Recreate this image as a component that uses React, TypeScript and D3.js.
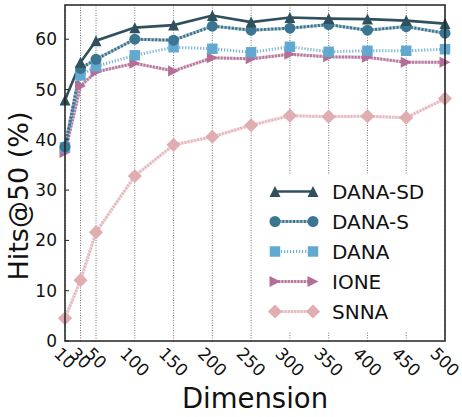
import React from "react";
import * as d3 from "d3";

const dims = [10, 30, 50, 100, 150, 200, 250, 300, 350, 400, 450, 500];
const danaSD = [47.9, 55.4, 59.7, 62.3, 62.8, 64.7, 63.4, 64.3, 64.1, 64.0, 63.7, 63.1];
const danaS = [38.6, 54.2, 56.0, 60.0, 59.8, 62.6, 61.8, 62.2, 62.9, 61.8, 62.5, 61.2];
const dana = [38.5, 52.8, 54.6, 56.8, 58.4, 58.1, 57.4, 58.5, 57.5, 57.7, 57.7, 58.0];
const ione = [37.5, 50.7, 53.5, 55.2, 53.7, 56.3, 56.1, 57.0, 56.5, 56.4, 55.4, 55.4];
const snna = [4.5, 12.1, 21.6, 32.8, 39.0, 40.6, 42.9, 44.8, 44.6, 44.7, 44.4, 48.2];
const yTicks = [0, 10, 20, 30, 40, 50, 60];
const seriesNames = ["DANA-SD", "DANA-S", "DANA", "IONE", "SNNA"];

type MarkerKind = "tri" | "circle" | "square" | "right" | "diamond";

const markerType = (kind: MarkerKind) => ({
  draw(ctx: any, size: number) {
    const r = Math.sqrt(size) / 2;
    if (kind === "tri") {
      ctx.moveTo(0, -r);
      ctx.lineTo(r, r);
      ctx.lineTo(-r, r);
      ctx.closePath();
    } else if (kind === "right") {
      ctx.moveTo(r, 0);
      ctx.lineTo(-r, r);
      ctx.lineTo(-r, -r);
      ctx.closePath();
    } else if (kind === "circle") {
      ctx.moveTo(r, 0);
      ctx.arc(0, 0, r, 0, 2 * Math.PI);
    } else if (kind === "square") {
      ctx.rect(-r, -r, 2 * r, 2 * r);
    } else {
      const d = r * 1.35;
      ctx.moveTo(0, -d);
      ctx.lineTo(d, 0);
      ctx.lineTo(0, d);
      ctx.lineTo(-d, 0);
      ctx.closePath();
    }
  },
});

interface SeriesStyle {
  name: string;
  values: number[];
  color: string;
  marker: MarkerKind;
  dash: string | null;
  base: number;
  lineOpacity: number;
  size: number;
}

const series: SeriesStyle[] = [
  { name: seriesNames[0], values: danaSD, color: "#30505d", marker: "tri", dash: null, base: 0, lineOpacity: 1, size: 121 },
  { name: seriesNames[1], values: danaS, color: "#3a7591", marker: "circle", dash: "2,1.6", base: 0.45, lineOpacity: 1, size: 121 },
  { name: seriesNames[2], values: dana, color: "#62a9d1", marker: "square", dash: "1.2,1.8", base: 0, lineOpacity: 0.9, size: 110 },
  { name: seriesNames[3], values: ione, color: "#b46e97", marker: "right", dash: "2,1.2", base: 0.35, lineOpacity: 0.9, size: 121 },
  { name: seriesNames[4], values: snna, color: "#e0adb1", marker: "diamond", dash: "2,1.2", base: 0.35, lineOpacity: 0.75, size: 110 },
];

export default function App() {
  const W = 462;
  const H = 417;
  const left = 65;
  const right = 445;
  const top = 5;
  const bottom = 341;

  const x = d3.scaleLinear().domain([10, 500]).range([left, right]);
  const y = d3.scaleLinear().domain([0, 66.8]).range([bottom, top]);

  const line = d3
    .line<number>()
    .x((_, i) => x(dims[i]))
    .y((v) => y(v));

  const font = "DejaVu Sans, sans-serif";

  const legX0 = 275;
  const legX1 = 313;
  const legY0 = 191.5;
  const legStep = 30;

  const renderLine = (s: SeriesStyle, d: string, key: string) => (
    <g key={key}>
      {s.base > 0 && (
        <path d={d} fill="none" stroke={s.color} strokeWidth={3} opacity={s.base} />
      )}
      <path
        d={d}
        fill="none"
        stroke={s.color}
        strokeWidth={s.dash ? 3 : 2.6}
        strokeDasharray={s.dash || undefined}
        opacity={s.lineOpacity}
      />
    </g>
  );

  return (
    <svg
      width={W}
      height={H}
      style={{ position: "absolute", left: 0, top: 0, background: "#fff" }}
      fontFamily={font}
    >
      <rect x={0} y={0} width={W} height={H} fill="#fff" />
      {/* vertical grid */}
      {dims.map((d) => (
        <line
          key={"g" + d}
          x1={x(d)}
          x2={x(d)}
          y1={top}
          y2={bottom}
          stroke="#777"
          strokeWidth={1}
          strokeDasharray="1,1.5"
        />
      ))}
      {/* series lines */}
      {series
        .slice()
        .reverse()
        .map((s) => renderLine(s, line(s.values) || "", "l" + s.name))}
      {/* markers */}
      {series
        .slice()
        .reverse()
        .map((s) => {
          const sym = d3.symbol().type(markerType(s.marker) as any).size(s.size)();
          return (
            <g key={"m" + s.name}>
              {s.values.map((v, i) => (
                <path
                  key={i}
                  d={sym || ""}
                  transform={`translate(${x(dims[i])},${y(v)})`}
                  fill={s.color}
                />
              ))}
            </g>
          );
        })}
      {/* legend */}
      <rect x={266} y={175} width={176} height={156} fill="#fff" />
      {series.map((s, i) => {
        const ly = legY0 + i * legStep;
        const sym = d3.symbol().type(markerType(s.marker) as any).size(s.size)();
        const d = `M${legX0},${ly}L${legX1},${ly}`;
        return (
          <g key={"leg" + s.name}>
            {renderLine(s, d, "ll" + s.name)}
            <path d={sym || ""} transform={`translate(${legX0},${ly})`} fill={s.color} />
            <path d={sym || ""} transform={`translate(${legX1},${ly})`} fill={s.color} />
            <text x={332} y={ly} dominantBaseline="central" fontSize={20} fill="#111">
              {s.name}
            </text>
          </g>
        );
      })}
      {/* frame */}
      <rect x={left} y={top} width={right - left} height={bottom - top} fill="none" stroke="#222" strokeWidth={1.5} />
      {/* y ticks */}
      {yTicks.map((t) => (
        <g key={"yt" + t}>
          <line x1={left} x2={left + 4} y1={y(t)} y2={y(t)} stroke="#222" strokeWidth={1} />
          <text x={57} y={y(t)} textAnchor="end" dominantBaseline="central" fontSize={17} fill="#111">
            {t}
          </text>
        </g>
      ))}
      {/* x ticks */}
      {dims.map((d) => {
        const label = String(d);
        const w = label.length * 0.636 * 17;
        const half = ((w + 12.5) / 2) * Math.SQRT1_2;
        return (
          <text
            key={"xt" + d}
            transform={`translate(${x(d)},${346 + half}) rotate(45)`}
            textAnchor="middle"
            dominantBaseline="central"
            fontSize={17}
            fill="#111"
          >
            {label}
          </text>
        );
      })}
      {/* axis labels */}
      <text x={(left + right) / 2} y={408} textAnchor="middle" fontSize={27.5} fill="#111">
        Dimension
      </text>
      <text
        transform={`translate(28,196) rotate(-90)`}
        textAnchor="middle"
        fontSize={27}
        fill="#111"
      >
        Hits@50 (%)
      </text>
    </svg>
  );
}
